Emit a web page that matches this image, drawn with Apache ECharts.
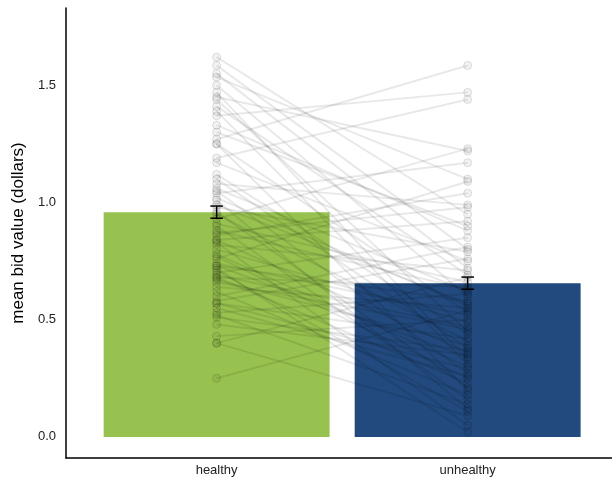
<!DOCTYPE html>
<html>
<head>
<meta charset="utf-8">
<script src="https://cdn.jsdelivr.net/npm/echarts@6/dist/echarts.min.js"></script>
<style>html,body{margin:0;padding:0;background:#fff}#c{width:612px;height:480px}</style>
</head>
<body>
<div id="c"></div>
<script>
const categories = ['healthy', 'unhealthy'];
const meanValues = [0.959, 0.656];
const seValues = [0.026, 0.026];
const yTicks = [0, 0.5, 1.0, 1.5];
const healthyVals = [1.62,1.585,1.535,1.50,1.45,1.44,1.41,1.39,1.37,1.33,1.27,1.25,1.25,1.19,1.17,1.10,1.08,1.06,1.05,1.04,1.02,1.01,0.98,0.95,0.93,0.91,0.90,0.87,0.84,0.84,0.83,0.82,0.80,0.77,0.76,0.73,0.73,0.72,0.70,0.69,0.68,0.68,0.67,0.64,0.62,0.58,0.57,0.57,0.53,0.52,0.51,0.43,0.40,0.40,0.25,
  1.55,1.47,1.30,1.12,0.99,0.96,0.88,0.86,0.78,0.74,0.71,0.66,0.60,0.55,0.48];
const unhealthyVals = [0.95,0.80,1.10,0.60,1.22,0.45,0.69,0.31,1.47,0.88,1.585,0.53,0.20,1.44,0.75,0.38,0.99,0.62,0.27,1.17,0.56,0.12,0.79,0.41,1.23,0.66,0.16,0.98,0.92,0.36,0.05,0.71,0.49,0.25,1.09,0.58,0.34,0.02,0.85,0.47,0.23,0.64,0.39,0.55,0.18,0.76,0.42,0.29,0.61,0.14,0.37,0.50,0.68,0.09,0.54,
  0.72,0.33,0.90,0.44,0.57,0.21,0.63,1.04,0.30,0.52,0.11,0.46,0.81,0.26,0.35];

const GREEN = '#97c24f', BLUE = '#224a7e';
const FONT = 'Liberation Sans, Arial, sans-serif';
const series = [];
series.push({
  type: 'custom', z: 1,
  data: meanValues.map((v, i) => [i + 1, v]),
  renderItem: function (params, api) {
    const x = api.value(0), v = api.value(1);
    const p1 = api.coord([x - 0.45, v]);
    const p2 = api.coord([x + 0.45, 0]);
    return { type: 'rect', shape: { x: p1[0], y: p1[1], width: p2[0] - p1[0], height: p2[1] - p1[1] },
      style: { fill: x === 1 ? GREEN : BLUE } };
  }
});
for (let i = 0; i < healthyVals.length; i++) {
  series.push({
    type: 'line', z: 3, silent: true,
    data: [[1, healthyVals[i]], [2, unhealthyVals[i]]],
    symbol: 'circle', symbolSize: 8,
    lineStyle: { color: 'rgba(0,0,0,0.09)', width: 2 },
    itemStyle: { color: 'rgba(0,0,0,0.05)', borderColor: 'rgba(0,0,0,0.12)', borderWidth: 1 },
    animation: false
  });
}
series.push({
  type: 'custom', z: 5,
  data: meanValues.map((v, i) => [i + 1, v - seValues[i], v + seValues[i]]),
  renderItem: function (params, api) {
    const x = api.value(0);
    const lo = api.coord([x, api.value(1)]);
    const hi = api.coord([x, api.value(2)]);
    const l = api.coord([x - 0.025, 0])[0], r = api.coord([x + 0.025, 0])[0];
    const st = { stroke: '#000', lineWidth: 1.5 };
    return { type: 'group', children: [
      { type: 'line', shape: { x1: lo[0], y1: lo[1], x2: hi[0], y2: hi[1] }, style: st },
      { type: 'line', shape: { x1: l, y1: lo[1], x2: r, y2: lo[1] }, style: st },
      { type: 'line', shape: { x1: l, y1: hi[1], x2: r, y2: hi[1] }, style: st }
    ] };
  }
});

const chart = echarts.init(document.getElementById('c'), null, { renderer: 'canvas' });
chart.setOption({
  animation: false,
  textStyle: { fontFamily: FONT },
  grid: { left: 66, right: 0, top: 8, bottom: 22, containLabel: false, outerBoundsMode: 'none' },
  xAxis: {
    type: 'value', min: 0.4, max: 2.575,
    axisLine: { show: true, onZero: false, lineStyle: { color: '#000', width: 1.5 } },
    axisTick: { show: false },
    splitLine: { show: false },
    axisLabel: { customValues: [1, 2], formatter: v => categories[Math.round(v) - 1] || '',
      color: '#222', fontSize: 13, margin: 6, fontFamily: FONT }
  },
  yAxis: {
    type: 'value', min: -0.09, max: 1.83,
    name: 'mean bid value (dollars)', nameLocation: 'middle', nameGap: 33,
    nameTextStyle: { color: '#000', fontSize: 17, fontFamily: FONT },
    axisLine: { show: true, lineStyle: { color: '#000', width: 1.5 } },
    axisTick: { show: false },
    splitLine: { show: false },
    axisLabel: { customValues: yTicks, formatter: v => v.toFixed(1),
      color: '#222', fontSize: 13, margin: 10, fontFamily: FONT }
  },
  series: series
});
</script>
</body>
</html>
